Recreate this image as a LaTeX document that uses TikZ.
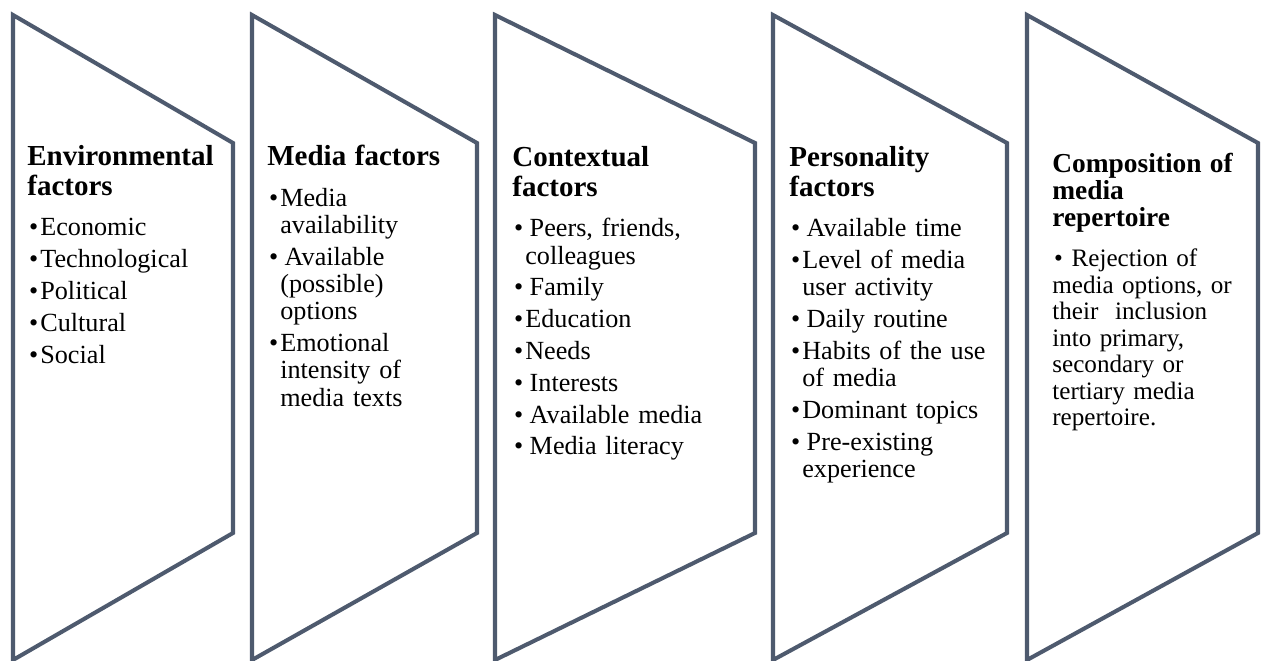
\documentclass[tikz,border=0pt]{standalone}
\usepackage{fontspec}
\setmainfont{Liberation Serif}
\usepackage{tikz}
\usetikzlibrary{positioning}
\definecolor{chevLine}{HTML}{4E5A6E}
\definecolor{textMain}{HTML}{000000}

% list layout inside the chevrons
\newlength{\bhang}\setlength{\bhang}{7.4pt}
\newlength{\bskip}\setlength{\bskip}{2.6pt}
\newcommand{\headsize}{\fontsize{16.5}{17}\selectfont}
\newcommand{\heading}[1]{{\noindent\headsize\bfseries #1\par}\vspace{5pt}}
\newcommand{\bitem}[2][0pt]{\par\vspace{\bskip}\hangindent=\bhang\hangafter=1\noindent
  \makebox[\bhang][l]{\hspace{1pt}\textbullet}\hspace{#1}#2}

\begin{document}
\begin{tikzpicture}[
    x=0.02cm, y=-0.02cm,
    chevron/.style={draw=chevLine, line width=2.3pt, fill=white},
    facts/.style={anchor=north west, inner sep=0pt, text width=4.2cm, align=left,
                  text=textMain, font=\fontsize{14.9}{15.5}\selectfont\frenchspacing},
]
    \useasboundingbox (0,0) rectangle (1262,661);
    \clip (0,0) rectangle (1262,661);

    % Step 1: Environment
    \draw[chevron] (13,15) -- (233,143) -- (233,533) -- (13,660) -- cycle;
    \node[facts] (environ) at (27,145) {\heading{Environmental\newline factors}
        \bitem{Economic}
        \bitem{Technological}
        \bitem{Political}
        \bitem{Cultural}
        \bitem{Social}\par};

    % Step 2: Media
    \draw[chevron] (252,15) -- (477,143) -- (477,533) -- (252,660) -- cycle;
    \node[facts] (media) at (267,145) {\heading{Media factors}
        \bitem{Media\newline availability}
        \bitem[2.5pt]{Available\newline (possible)\newline options}
        \bitem{Emotional\newline intensity of\newline media texts}\par};

    % Step 3: Context
    \draw[chevron] (495,15) -- (755,143) -- (755,533) -- (495,660) -- cycle;
    \node[facts] (context) at (512,146) {\heading{Contextual\newline factors}
        \bitem[2.5pt]{Peers, friends,\newline colleagues}
        \bitem[2.5pt]{Family}
        \bitem{Education}
        \bitem{Needs}
        \bitem[2.5pt]{Interests}
        \bitem[2.5pt]{Available media}
        \bitem[2.5pt]{Media literacy}\par};

    % Step 4: Personality
    \draw[chevron] (773,15) -- (1007,143) -- (1007,533) -- (773,660) -- cycle;
    \node[facts] (person) at (789,146) {\heading{Personality\newline factors}
        \bitem[2.5pt]{Available time}
        \bitem{Level of media\newline user activity}
        \bitem[2.5pt]{Daily routine}
        \bitem{Habits of the use\newline of media}
        \bitem{Dominant topics}
        \bitem[2.5pt]{Pre-existing\newline experience}\par};

    % Step 5: Repertoire
    \draw[chevron] (1027,15) -- (1258,143) -- (1258,533) -- (1027,660) -- cycle;
    \node[facts, font=\fontsize{14.3}{15.1}\selectfont\frenchspacing\renewcommand{\headsize}{\fontsize{15.6}{15.4}\selectfont}]
        (repert) at (1052,153) {\heading{Composition of\newline media\newline repertoire}
        \par\vspace{\bskip}\noindent\hspace{1pt}\textbullet\hspace{5pt}Rejection of\newline
        media options, or\newline their\ \ inclusion\newline into primary,\newline
        secondary or\newline tertiary media\newline repertoire.\par};
\end{tikzpicture}
\end{document}
